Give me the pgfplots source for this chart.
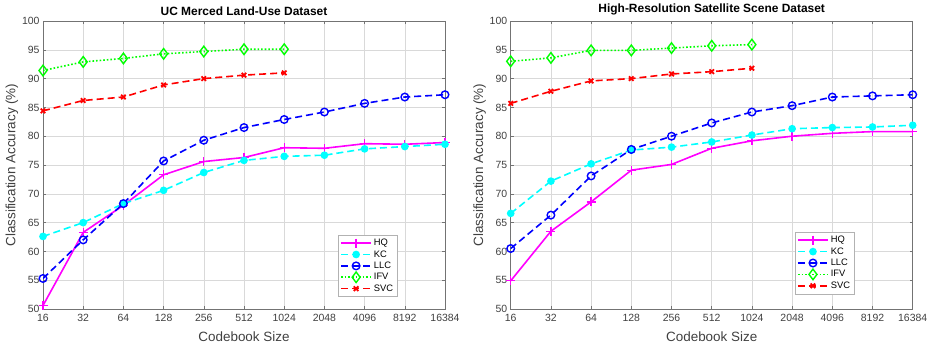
\documentclass[border=0pt]{standalone}
\usepackage{pgfplots}
\pgfplotsset{compat=1.18}
\usepackage{fontspec}
\setmainfont{Liberation Sans}
\definecolor{mgray}{rgb}{0.25,0.25,0.25}
\definecolor{cmag}{rgb}{1,0,1}
\definecolor{ccyan}{rgb}{0,1,1}
\definecolor{cblue}{rgb}{0,0,1}
\definecolor{cgreen}{rgb}{0,1,0}
\definecolor{cred}{rgb}{1,0,0}
\pgfplotsset{
  mystyle/.style={
    scale only axis, width=402bp, height=288bp,
    xmin=0, xmax=10, ymin=50, ymax=100,
    xtick={0,...,10},
    xticklabels={16,32,64,128,256,512,1024,2048,4096,8192,16384},
    ytick={50,55,...,100},
    grid=major, major grid style={color=black!15, line width=0.5bp},
    axis line style={color=black!55, line width=0.5bp},
    tick style={color=black!55, line width=0.5bp},
    tick align=inside, major tick length=3bp,
    ticklabel style={font=\fontsize{10.5}{12}\selectfont, color=mgray},
    xticklabel style={yshift=-2bp},
    /pgf/number format/assume math mode=true,
    label style={font=\fontsize{13.5}{15}\selectfont, color=mgray},
    title style={font=\bfseries\fontsize{12}{14}\selectfont, yshift=-4bp},
    xlabel={Codebook Size}, ylabel={Classification Accuracy (\%)},
    xlabel style={yshift=-3bp},
    ylabel style={yshift=-3bp},
    legend style={font=\fontsize{9.4}{11}\selectfont, draw=black!30, line width=0.5bp,
      row sep=-0.6bp, inner xsep=2bp, inner ysep=2bp, cells={anchor=west}},
    legend image code/.code={\draw[mark repeat=2,mark phase=2,#1,line width=1.6bp] plot coordinates {(0bp,0bp) (15bp,0bp) (30bp,0bp)};},
    every axis plot/.append style={line width=1.6bp},
  },
  hq/.style={color=cmag, solid, mark=+, mark size=4.5bp, mark options={solid, line width=1.3bp}},
  kc/.style={color=ccyan, dash pattern=on 7bp off 4bp, mark=*, mark size=3bp, mark options={solid}},
  llc/.style={color=cblue, dash pattern=on 7bp off 4bp, mark=o, mark size=3.8bp, mark options={solid, line width=1.4bp}},
  ifv/.style={color=cgreen, dash pattern=on 1.6bp off 2bp, mark=diamond, mark size=5.3bp, mark options={solid, line width=1.4bp}},
  svc/.style={color=cred, dash pattern=on 7bp off 4bp, mark=x, mark size=3.2bp, mark options={solid, line width=1.8bp}},
}
\begin{document}
\begin{tikzpicture}[x=1bp,y=1bp]
\path[use as bounding box] (0,0) rectangle (934,348);
\begin{axis}[mystyle, at={(43bp,39bp)}, anchor=south west,
  title={UC Merced Land-Use Dataset},
  legend style={at={(0.734,0.042)}, anchor=south west}]
\addplot[hq] coordinates {(0,50.6)(1,63.3)(2,68.0)(3,73.3)(4,75.6)(5,76.3)(6,78.0)(7,77.9)(8,78.7)(9,78.6)(10,78.9)};
\addplot[kc] coordinates {(0,62.6)(1,65.0)(2,68.3)(3,70.6)(4,73.7)(5,75.8)(6,76.5)(7,76.7)(8,77.8)(9,78.2)(10,78.6)};
\addplot[llc] coordinates {(0,55.3)(1,62.0)(2,68.3)(3,75.7)(4,79.3)(5,81.5)(6,82.9)(7,84.2)(8,85.7)(9,86.8)(10,87.2)};
\addplot[ifv] coordinates {(0,91.4)(1,92.9)(2,93.5)(3,94.3)(4,94.7)(5,95.1)(6,95.1)};
\addplot[svc] coordinates {(0,84.4)(1,86.2)(2,86.8)(3,88.9)(4,90.0)(5,90.6)(6,91.0)};
\legend{HQ,KC,LLC,IFV,SVC}
\end{axis}
\begin{axis}[mystyle, at={(510.7bp,39bp)}, anchor=south west,
  title={High-Resolution Satellite Scene Dataset},
  legend style={at={(0.707,0.052)}, anchor=south west}]
\addplot[hq] coordinates {(0,54.9)(1,63.5)(2,68.6)(3,74.1)(4,75.1)(5,77.9)(6,79.2)(7,80.0)(8,80.5)(9,80.8)(10,80.8)};
\addplot[kc] coordinates {(0,66.6)(1,72.2)(2,75.2)(3,77.6)(4,78.1)(5,79.0)(6,80.2)(7,81.3)(8,81.5)(9,81.6)(10,81.9)};
\addplot[llc] coordinates {(0,60.5)(1,66.3)(2,73.1)(3,77.7)(4,80.0)(5,82.3)(6,84.2)(7,85.3)(8,86.8)(9,87.0)(10,87.2)};
\addplot[ifv] coordinates {(0,93.0)(1,93.6)(2,94.9)(3,94.9)(4,95.3)(5,95.7)(6,95.9)};
\addplot[svc] coordinates {(0,85.7)(1,87.8)(2,89.6)(3,90.0)(4,90.8)(5,91.2)(6,91.8)};
\legend{HQ,KC,LLC,IFV,SVC}
\end{axis}
\end{tikzpicture}
\end{document}
